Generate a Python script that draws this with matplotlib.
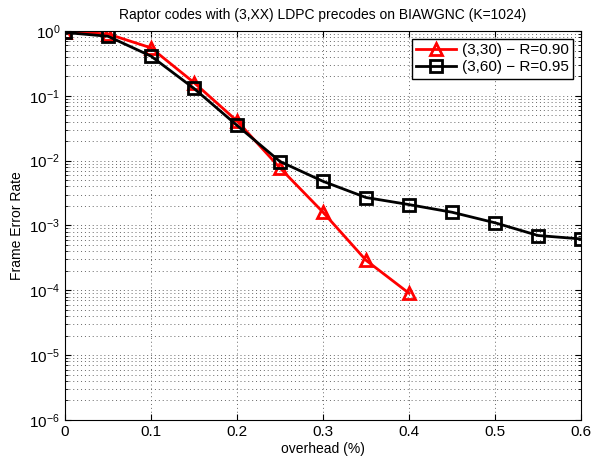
import matplotlib
matplotlib.use("Agg")
import matplotlib.pyplot as plt
import numpy as np
from matplotlib.ticker import LogLocator, NullFormatter

plt.rcParams['font.family'] = ['Liberation Sans', 'DejaVu Sans']

x_red = [0, 0.05, 0.1, 0.15, 0.2, 0.25, 0.3, 0.35, 0.4]
fer_red = [0.98, 0.9, 0.55, 0.16, 0.041, 0.0077, 0.0016, 0.00029, 0.00009]
x_blk = [0, 0.05, 0.1, 0.15, 0.2, 0.25, 0.3, 0.35, 0.4, 0.45, 0.5, 0.55, 0.6]
fer_blk = [0.95, 0.83, 0.41, 0.13, 0.035, 0.0097, 0.0048, 0.0027, 0.0021, 0.0016, 0.0011, 0.0007, 0.00062]
xticks = [0, 0.1, 0.2, 0.3, 0.4, 0.5, 0.6]
xticklabels = ['0', '0.1', '0.2', '0.3', '0.4', '0.5', '0.6']
label_red = '(3,30) \u2212 R=0.90'
label_blk = '(3,60) \u2212 R=0.95'

fig = plt.figure(figsize=(5.96, 4.63), dpi=100)
ax = fig.add_axes([0.109, 0.093, 0.866, 0.840])

ax.semilogy(x_red, fer_red, color='red', lw=2, marker='^', ms=9, mfc='none', mec='red', mew=2, label=label_red)
ax.semilogy(x_blk, fer_blk, color='black', lw=2, marker='s', ms=8, mfc='none', mec='black', mew=2, label=label_blk)

ax.set_xlim(0, 0.6)
ax.set_ylim(1e-6, 1)
ax.set_xticks(xticks)
ax.set_xticklabels(xticklabels)
ax.yaxis.set_major_locator(LogLocator(base=10, numticks=10))
ax.yaxis.set_minor_locator(LogLocator(base=10, subs=np.arange(2, 10), numticks=20))
ax.yaxis.set_minor_formatter(NullFormatter())

gstyle = dict(linestyle=(0, (1, 3)), color='#666666', lw=0.7)
ax.grid(True, which='major', **gstyle)
ax.grid(True, which='minor', axis='y', **gstyle)
ax.tick_params(which='both', direction='in', top=True, right=True, labelsize=11)
ax.tick_params(which='major', length=4)
ax.tick_params(which='minor', length=2)
for s in ax.spines.values():
    s.set_linewidth(0.8)

ax.set_xlabel('overhead (%)', fontsize=10, labelpad=2)
ax.set_ylabel('Frame Error Rate', fontsize=10, labelpad=4)
ax.set_title('Raptor codes with (3,XX) LDPC precodes on BIAWGNC (K=1024)', fontsize=10, pad=9)

leg = ax.legend(loc='upper right', fontsize=11, fancybox=False, framealpha=1, edgecolor='black',
                borderaxespad=0.5, handlelength=2.6, borderpad=0.3, labelspacing=0.2, handletextpad=0.4)
leg.get_frame().set_linewidth(1.0)

fig.savefig('out.png', dpi=100)
